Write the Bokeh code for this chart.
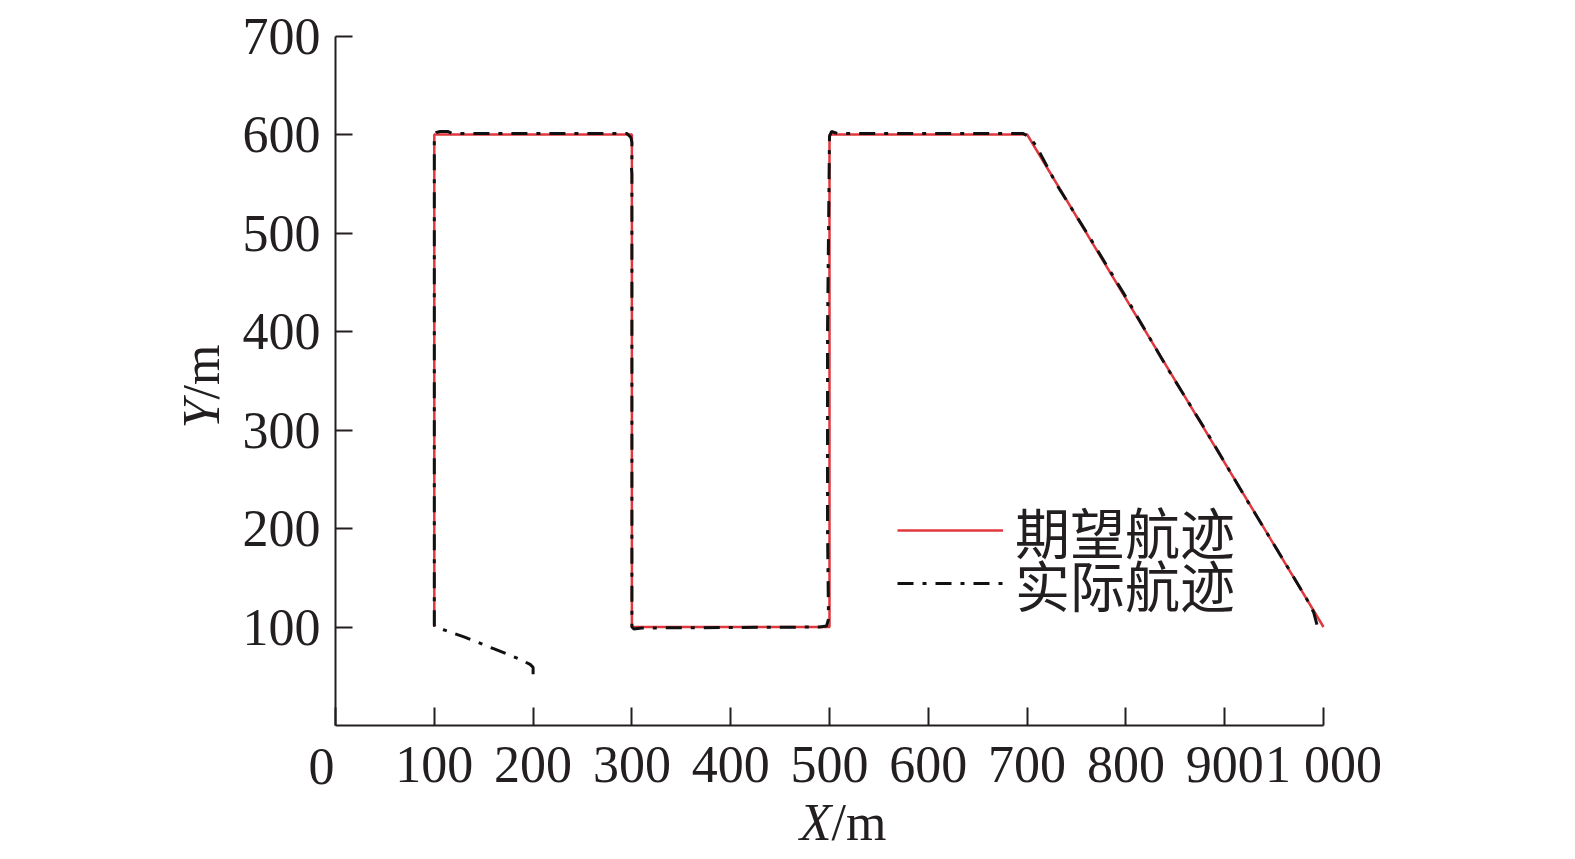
import math
from bokeh.plotting import figure
from bokeh.models import Range1d, FixedTicker, Label, Legend, LegendItem, LinearAxis
from bokeh.embed import file_html
from bokeh.resources import INLINE

# ---- data ----
des_x = [100, 100, 300, 300, 500, 500, 700, 1000]
des_y = [100, 600, 600, 100, 100, 600, 600, 100]

act_x = [200, 200, 197, 185, 160, 130, 110, 101, 100, 100, 100, 102, 106, 114, 118,
         295, 299, 300, 300, 299, 300, 300, 302, 310, 490, 497, 499, 498, 498, 500,
         502, 508, 696, 703, 710, 730, 760, 800, 840, 880, 920, 960, 985, 990, 994, 1000]
act_y = [52, 59, 62, 68, 78, 90, 97, 100, 102, 300, 598, 602, 603, 603, 601,
         601, 597, 592, 574, 573, 560, 100, 98, 99, 100, 101, 108, 200, 400, 598,
         603, 601, 601, 597, 587, 549, 501, 435, 366, 301, 233, 167, 125, 115, 100, 100]

x_ticks = [0, 100, 200, 300, 400, 500, 600, 700, 800, 900, 1000]
x_tick_labels = ["0", "100", "200", "300", "400", "500", "600", "700", "800", "900", "1 000"]
y_ticks = [100, 200, 300, 400, 500, 600, 700]

legend_labels = ["期望航迹", "实际航迹"]

SERIF = "Liberation Serif"
CJK = "Noto Sans CJK SC"
AX = "#231f20"

W, H = 1567, 851
# pixel placement of the data window (x: 0..1000, y: 0..700)
PX0, PX1 = 335.0, 1323.0
PY0, PY1 = 725.0, 35.5
sx = (PX1 - PX0) / 1000.0
sy = (PY0 - PY1) / 700.0

p = figure(width=W, height=H, output_backend="svg", toolbar_location=None,
           x_range=Range1d(-PX0 / sx, (W - PX0) / sx),
           y_range=Range1d((PY0 - H) / sy, PY0 / sy),
           x_axis_location=None, y_axis_location=None,
           min_border=0)
p.outline_line_color = None
p.grid.visible = False
p.background_fill_color = "white"

r_des = p.line(des_x, des_y, line_color="#e0383e", line_width=2.5)
r_act = p.line(act_x, act_y, line_color="#111111", line_width=3, line_dash="16 9 4 9")

xaxis = LinearAxis(fixed_location=0, bounds=(0, 1000))
yaxis = LinearAxis(fixed_location=0, bounds=(0, 700))
p.add_layout(xaxis, "below")
p.add_layout(yaxis, "left")

for ax in (xaxis, yaxis):
    ax.axis_line_color = AX
    ax.axis_line_width = 2
    ax.major_tick_line_color = AX
    ax.major_tick_line_width = 2
    ax.major_tick_out = 0
    ax.minor_tick_line_color = None
    ax.major_label_text_font = SERIF
    ax.major_label_text_font_size = "52px"
    ax.major_label_text_color = AX

X_STANDOFF = 10
xaxis.ticker = FixedTicker(ticks=x_ticks)
overrides = {t: l for t, l in zip(x_ticks, x_tick_labels)}
overrides[x_ticks[0]] = ""          # the "0" label sits a little left of the axis
xaxis.major_label_overrides = overrides
xaxis.major_tick_in = 18
xaxis.major_label_standoff = X_STANDOFF

yaxis.ticker = FixedTicker(ticks=y_ticks)
yaxis.major_tick_in = 17
yaxis.major_label_standoff = 15

p.add_layout(Label(x=x_ticks[0], y=-(X_STANDOFF + 13) / sy, x_offset=-14, text=x_tick_labels[0],
                   text_font=SERIF, text_font_size="52px", text_align="center",
                   text_baseline="top", text_color=AX))

# axis titles (italic variable + unit)
XT_Y = -98
YT_X = -136
p.add_layout(Label(x=502, y=XT_Y, text="X", text_font=SERIF, text_font_style="italic",
                   text_font_size="52px", text_align="right", text_baseline="alphabetic",
                   text_color=AX))
p.add_layout(Label(x=502, y=XT_Y, text="/m", text_font=SERIF,
                   text_font_size="52px", text_align="left", text_baseline="alphabetic",
                   text_color=AX))
p.add_layout(Label(x=YT_X, y=331, text="Y", text_font=SERIF, text_font_style="italic",
                   text_font_size="52px", text_align="right", text_baseline="alphabetic",
                   angle=math.pi / 2, text_color=AX))
p.add_layout(Label(x=YT_X, y=331, text="/m", text_font=SERIF,
                   text_font_size="52px", text_align="left", text_baseline="alphabetic",
                   angle=math.pi / 2, text_color=AX))


def make_legend(label, renderer, bottom_px):
    lg = Legend(items=[LegendItem(label=label, renderers=[renderer])],
                location=(897, H - bottom_px))
    lg.label_text_font = CJK
    lg.label_text_font_size = "55px"
    lg.label_text_color = AX
    lg.glyph_width = 106
    lg.glyph_height = 40
    lg.label_height = 40
    lg.label_standoff = 12
    lg.spacing = 0
    lg.padding = 0
    lg.margin = 0
    lg.border_line_color = None
    lg.background_fill_alpha = 0
    p.add_layout(lg, "center")


make_legend(legend_labels[0], r_des, 570)
make_legend(legend_labels[1], r_act, 623)

open("out.html", "w").write(file_html(p, INLINE))
